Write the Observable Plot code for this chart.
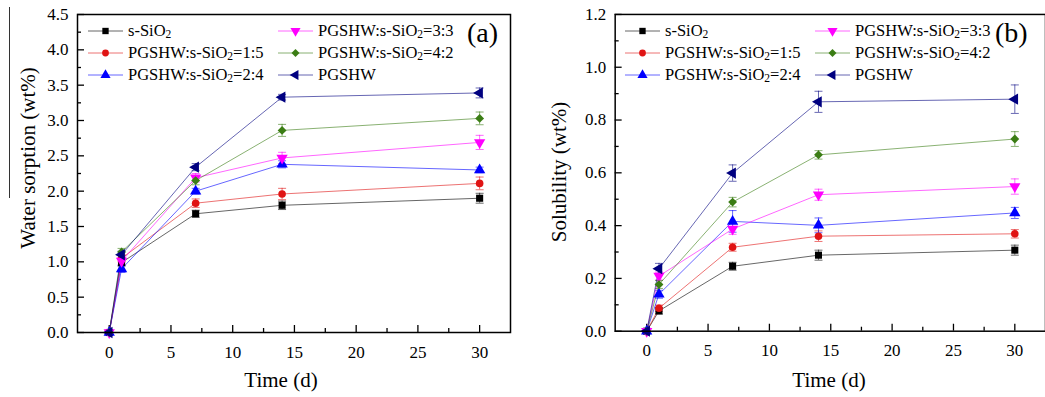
<!DOCTYPE html>
<html><head><meta charset="utf-8">
<script src="https://cdn.jsdelivr.net/npm/d3@7"></script>
<script src="https://cdn.jsdelivr.net/npm/@observablehq/plot@0.6"></script>
<style>
html,body{margin:0;padding:0;background:#fff;}
#wrap{position:relative;width:1045px;height:397px;overflow:hidden;font-family:"Liberation Serif","Times New Roman",serif;color:#000;}
#wrap svg, #wrap svg text{font-family:"Liberation Serif","Times New Roman",serif !important;}
.panel{position:absolute;top:0;}
.lab{position:absolute;white-space:nowrap;font-size:21px;transform:translate(-50%,-50%);}
.rot{transform:translate(-50%,-50%) rotate(-90deg);}
.leg{position:absolute;display:flex;align-items:center;font-size:16.5px;white-space:nowrap;transform:translateY(-50%);}
.leg svg{display:block;overflow:visible;}
sub{font-size:70%;vertical-align:-0.15em;line-height:0;}
.tag{position:absolute;font-size:28px;white-space:nowrap;transform:translateY(-50%);}
</style></head>
<body><div id="wrap"></div>
<script>
// ---------- data ----------
const times = [0, 1, 7, 14, 30];
const seriesNames = ["s-SiO2", "PGSHW:s-SiO2=1:5", "PGSHW:s-SiO2=2:4", "PGSHW:s-SiO2=3:3", "PGSHW:s-SiO2=4:2", "PGSHW"];
const seriesColors = ["#000000", "#e01414", "#0000ff", "#ff00ff", "#3b7d14", "#000080"];

// Water sorption (wt%), panel (a)
const sorp_sSiO2 = [0, 0.99, 1.68, 1.80, 1.90];
const sorp_15 = [0, 1.05, 1.83, 1.96, 2.11];
const sorp_24 = [0, 0.90, 2.00, 2.38, 2.30];
const sorp_33 = [0, 1.01, 2.19, 2.47, 2.69];
const sorp_42 = [0, 1.14, 2.15, 2.86, 3.03];
const sorp_PGSHW = [0, 1.10, 2.34, 3.33, 3.39];
const sorpErr_sSiO2 = [0, 0.05, 0.05, 0.06, 0.07];
const sorpErr_15 = [0, 0.05, 0.06, 0.08, 0.09];
const sorpErr_24 = [0, 0.05, 0.04, 0.05, 0.04];
const sorpErr_33 = [0, 0.05, 0.06, 0.08, 0.10];
const sorpErr_42 = [0, 0.05, 0.06, 0.085, 0.09];
const sorpErr_PGSHW = [0, 0.05, 0.05, 0.04, 0.07];

// Solubility (wt%), panel (b)
const sol_sSiO2 = [0, 0.077, 0.246, 0.288, 0.307];
const sol_15 = [0, 0.087, 0.318, 0.360, 0.369];
const sol_24 = [0, 0.140, 0.416, 0.401, 0.448];
const sol_33 = [0, 0.209, 0.387, 0.517, 0.548];
const sol_42 = [0, 0.177, 0.489, 0.668, 0.728];
const sol_PGSHW = [0, 0.237, 0.599, 0.869, 0.879];
const solErr_sSiO2 = [0, 0.012, 0.015, 0.019, 0.019];
const solErr_15 = [0, 0.012, 0.015, 0.020, 0.016];
const solErr_24 = [0, 0.015, 0.041, 0.028, 0.021];
const solErr_33 = [0, 0.015, 0.020, 0.021, 0.029];
const solErr_42 = [0, 0.015, 0.018, 0.016, 0.028];
const solErr_PGSHW = [0, 0.020, 0.031, 0.040, 0.054];

const xMajor = [0, 5, 10, 15, 20, 25, 30];
const xMinor = [2.5, 7.5, 12.5, 17.5, 22.5, 27.5];
const yMajorA = [0, 0.5, 1.0, 1.5, 2.0, 2.5, 3.0, 3.5, 4.0, 4.5];
const yMinorA = [0.25, 0.75, 1.25, 1.75, 2.25, 2.75, 3.25, 3.75, 4.25];
const yMajorB = [0, 0.2, 0.4, 0.6, 0.8, 1.0, 1.2];
const yMinorB = [0.1, 0.3, 0.5, 0.7, 0.9, 1.1];

// ---------- symbols ----------
function triangle(angle) {
  const a = angle * Math.PI / 180, c = Math.cos(a), s = Math.sin(a);
  return {draw(ctx, size) {
    const y = -Math.sqrt(size / (Math.sqrt(3) * 3));
    const pts = [[0, y * 2], [-Math.sqrt(3) * y, -y], [Math.sqrt(3) * y, -y]]
      .map(([px, py]) => [px * c - py * s, px * s + py * c]);
    ctx.moveTo(pts[0][0], pts[0][1]); ctx.lineTo(pts[1][0], pts[1][1]); ctx.lineTo(pts[2][0], pts[2][1]); ctx.closePath();
  }};
}
const capSymbol = {draw(ctx, size) { const w = Math.sqrt(size / Math.PI); ctx.moveTo(-w, 0); ctx.lineTo(w, 0); }};
const plotSymbols = [d3.symbolSquare, d3.symbolCircle, triangle(0), triangle(180), d3.symbolDiamond2, triangle(-90)];
const symbolR = [4, 3.8, 4.2, 4.2, 4, 4.2];

const FONT = "Liberation Serif, Times New Roman, serif";
const wrap = document.getElementById("wrap");

function buildPanel(values, errors, yDomain, yMajor, yMinor, width, ml, mr, left) {
  const mt = 14, mb = 65, H = 397;
  const plotW = width - ml - mr, plotH = H - mt - mb;
  const marks = [];
  marks.push(Plot.tickY(yMajor, {y: d => d, insetRight: plotW - 7, stroke: "black", strokeWidth: 1.3}));
  marks.push(Plot.tickY(yMinor, {y: d => d, insetRight: plotW - 4, stroke: "black", strokeWidth: 1.3}));
  marks.push(Plot.tickX(xMajor, {x: d => d, insetTop: plotH - 7, stroke: "black", strokeWidth: 1.3}));
  marks.push(Plot.tickX(xMinor, {x: d => d, insetTop: plotH - 4, stroke: "black", strokeWidth: 1.3}));
  marks.push(Plot.axisY({ticks: yMajor, tickSize: 0, tickPadding: 9, tickFormat: d3.format(".1f"), label: null, fontSize: 17, fontFamily: FONT}));
  marks.push(Plot.axisX({ticks: xMajor, tickSize: 0, tickPadding: 13, tickFormat: d => String(d), label: null, fontSize: 17, fontFamily: FONT}));
  seriesNames.forEach((name, i) => {
    const rows = times.map((t, j) => ({t, v: values[i][j], e: errors[i][j]}));
    const eb = rows.filter(r => r.e > 0);
    const col = seriesColors[i];
    marks.push(Plot.line(rows, {x: "t", y: "v", stroke: col, strokeWidth: 1, strokeOpacity: 0.6}));
    marks.push(Plot.ruleX(eb, {x: "t", y1: r => r.v - r.e, y2: r => r.v + r.e, stroke: col, strokeWidth: 1, strokeOpacity: 0.6}));
    marks.push(Plot.dot(eb, {x: "t", y: r => r.v + r.e, symbol: capSymbol, r: 4, stroke: col, strokeWidth: 1, strokeOpacity: 0.6, fill: "none"}));
    marks.push(Plot.dot(eb, {x: "t", y: r => r.v - r.e, symbol: capSymbol, r: 4, stroke: col, strokeWidth: 1, strokeOpacity: 0.6, fill: "none"}));
  });
  seriesNames.forEach((name, i) => {
    const rows = times.map((t, j) => ({t, v: values[i][j]}));
    marks.push(Plot.dot(rows, {x: "t", y: "v", symbol: plotSymbols[i], r: symbolR[i], fill: seriesColors[i], stroke: "none"}));
  });
  marks.push(Plot.frame({stroke: "black", strokeWidth: 1.5}));
  const chart = Plot.plot({
    width, height: H, marginLeft: ml, marginRight: mr, marginTop: mt, marginBottom: mb,
    x: {domain: [-2.57, 32.5]},
    y: {domain: yDomain},
    style: {fontFamily: FONT, fontSize: "17px", color: "black", background: "transparent", overflow: "visible"},
    marks
  });
  const div = document.createElement("div");
  div.className = "panel"; div.style.left = left + "px";
  div.appendChild(chart);
  wrap.appendChild(div);
}

function label(html, x, y, rotated) {
  const d = document.createElement("div");
  d.className = "lab" + (rotated ? " rot" : "");
  d.style.left = x + "px"; d.style.top = y + "px";
  d.innerHTML = html;
  wrap.appendChild(d);
}

function legendName(name) { return name.replace("SiO2", "SiO<sub>2</sub>"); }

function legend(colLineX, lineLen, gap, rowY) {
  seriesNames.forEach((name, i) => {
    const c = Math.floor(i / 3), r = i % 3;
    const d = document.createElement("div");
    d.className = "leg";
    d.style.left = colLineX[c] + "px"; d.style.top = rowY[r] + "px";
    const svg = d3.create("svg").attr("width", lineLen).attr("height", 14);
    svg.append("line").attr("x1", 0).attr("x2", lineLen).attr("y1", 7).attr("y2", 7)
      .attr("stroke", seriesColors[i]).attr("stroke-opacity", 0.6).attr("stroke-width", 1);
    svg.append("path").attr("transform", `translate(${lineLen / 2},7)`)
      .attr("d", d3.symbol().type(plotSymbols[i]).size(Math.PI * symbolR[i] * symbolR[i] * 0.8)())
      .attr("fill", seriesColors[i]);
    d.appendChild(svg.node());
    const span = document.createElement("span");
    span.style.marginLeft = gap + "px";
    span.innerHTML = legendName(name);
    d.appendChild(span);
    wrap.appendChild(d);
  });
}

function tag(text, x, y) {
  const d = document.createElement("div");
  d.className = "tag"; d.style.left = x + "px"; d.style.top = y + "px";
  d.textContent = text; wrap.appendChild(d);
}

const sorpValues = [sorp_sSiO2, sorp_15, sorp_24, sorp_33, sorp_42, sorp_PGSHW];
const sorpErrors = [sorpErr_sSiO2, sorpErr_15, sorpErr_24, sorpErr_33, sorpErr_42, sorpErr_PGSHW];
const solValues = [sol_sSiO2, sol_15, sol_24, sol_33, sol_42, sol_PGSHW];
const solErrors = [solErr_sSiO2, solErr_15, solErr_24, solErr_33, solErr_42, solErr_PGSHW];

buildPanel(sorpValues, sorpErrors, [0, 4.5], yMajorA, yMinorA, 520, 77, 10, 0);
buildPanel(solValues, solErrors, [0, 1.2], yMajorB, yMinorB, 517, 85, 0, 530);

// stray vertical rule left of panel (a) label, as in the source image
const rule = document.createElement("div");
rule.style.cssText = "position:absolute;left:9px;top:7px;width:0;height:191px;border-left:1px solid #333;";
wrap.appendChild(rule);

label("Water sorption (wt%)", 28, 158, true);
label("Solubility (wt%)", 559, 172, true);
label("Time (d)", 281, 380, false);
label("Time (d)", 829, 380, false);

legend([88, 278], 35, 5, [31, 52.5, 75]);
legend([625, 815], 35, 5, [31, 52.5, 75]);
tag("(a)", 467, 33);
tag("(b)", 995, 33);
</script></body></html>
